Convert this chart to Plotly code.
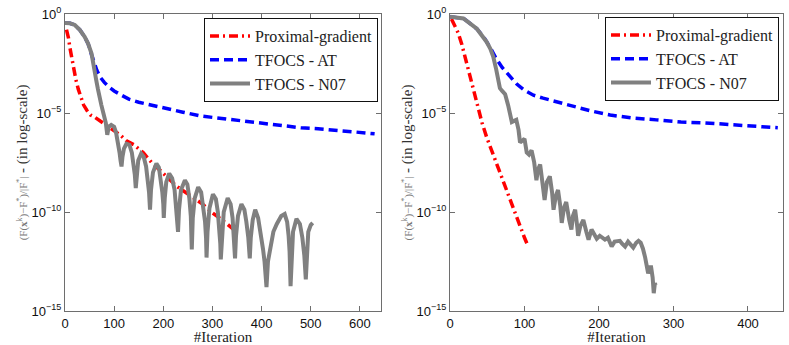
import plotly.graph_objects as go

# ---- left panel ----
left_prox_x = [3, 7, 10, 14, 18, 22, 27, 32, 38, 45, 52, 60, 71, 85, 98, 112, 125, 140,
               159, 176, 193, 210, 227, 245, 262, 280, 298, 315, 330, 343]
left_prox_y = [1.6e-1, 6.3e-2, 2.0e-2, 5.0e-3, 1.6e-3, 5.0e-4, 1.6e-4, 6.3e-5, 2.5e-5,
               1.3e-5, 7.9e-6, 6.3e-6, 4.0e-6, 2.5e-6, 1.3e-6, 7.9e-7, 4.0e-7, 2.5e-7,
               1.0e-7, 3.2e-8, 1.3e-8, 5.0e-9, 2.0e-9, 1.0e-9, 5.0e-10, 2.5e-10, 1.0e-10,
               5.0e-11, 2.5e-11, 1.3e-11]

left_at_x = [0, 10, 20, 30, 40, 47, 54, 60, 65, 72, 80, 90, 100, 115, 130, 150, 175, 205,
             240, 275, 310, 345, 380, 410, 445, 480, 515, 550, 590, 630]
left_at_y = [3.5e-1, 3.4e-1, 2.8e-1, 1.6e-1, 7.1e-2, 3.2e-2, 8.9e-3, 3.2e-3, 1.4e-3,
             6.3e-4, 3.5e-4, 2.0e-4, 1.3e-4, 7.9e-5, 5.0e-5, 3.5e-5, 2.5e-5, 1.6e-5,
             1.1e-5, 7.1e-6, 5.6e-6, 4.5e-6, 3.5e-6, 2.8e-6, 2.2e-6, 1.8e-6, 1.6e-6,
             1.4e-6, 1.1e-6, 8.9e-7]

left_n07_x = [0, 10, 20, 30, 40, 47, 54, 60, 64, 67, 70, 74, 78, 83, 86, 89, 94, 100,
              104, 108, 111, 113, 115, 117, 120, 125, 131, 136, 140, 142, 144, 146, 149,
              155, 160, 165, 169, 171, 173, 175, 179, 186, 191, 195, 198, 200, 201, 203,
              206, 212, 218, 223, 226, 228, 230, 232, 236, 244, 249, 253, 256, 258, 260,
              264, 271, 277, 281, 285, 287, 288, 290, 294, 301, 307, 311, 314, 316, 317,
              319, 323, 331, 337, 341, 344, 346, 348, 352, 359, 365, 369, 373, 376, 378,
              382, 387, 393, 398, 403, 406, 410, 413, 418, 424, 431, 440, 447, 452, 455,
              457, 459, 461, 464, 471, 478, 483, 487, 490, 492, 495, 500, 504]
left_n07_y = [3.5e-1, 3.4e-1, 2.8e-1, 1.6e-1, 7.1e-2, 3.2e-2, 1.0e-2, 2.0e-3, 4.0e-4,
              1.6e-4, 6.3e-5, 2.5e-5, 1.0e-5, 3.2e-6, 7.9e-7, 2.0e-6, 2.5e-6, 2.0e-6,
              1.0e-6, 3.2e-7, 1.0e-7, 4.0e-8, 2.0e-8, 6.3e-8, 1.6e-7, 2.8e-7, 2.5e-7,
              1.0e-7, 2.5e-8, 7.9e-9, 1.6e-9, 1.0e-8, 4.0e-8, 8.9e-8, 6.3e-8, 2.0e-8,
              4.0e-9, 1.0e-9, 1.3e-10, 1.3e-9, 1.0e-8, 2.8e-8, 1.8e-8, 5.0e-9, 1.0e-9,
              2.5e-10, 5.0e-11, 5.0e-10, 3.2e-9, 8.9e-9, 5.0e-9, 1.3e-9, 2.5e-10, 6.3e-11,
              1.0e-11, 1.3e-10, 1.3e-9, 4.0e-9, 2.5e-9, 5.0e-10, 6.3e-11, 1.3e-12, 5.0e-11,
              5.0e-10, 1.8e-9, 1.0e-9, 2.5e-10, 3.2e-11, 5.0e-12, 5.0e-13, 1.0e-11, 1.6e-10,
              7.9e-10, 4.5e-10, 1.0e-10, 1.6e-11, 2.5e-12, 4.0e-13, 6.3e-12, 1.0e-10,
              5.0e-10, 2.5e-10, 5.0e-11, 6.3e-12, 4.5e-13, 6.3e-12, 6.3e-11, 2.5e-10,
              1.3e-10, 3.2e-11, 5.0e-12, 4.5e-13, 5.0e-12, 4.0e-11, 1.3e-10, 5.0e-11,
              1.0e-11, 1.3e-12, 3.2e-13, 1.6e-14, 3.2e-13, 2.0e-12, 1.0e-11, 2.5e-11,
              6.3e-11, 7.9e-11, 3.2e-11, 6.3e-12, 1.0e-12, 1.8e-14, 6.3e-13, 1.0e-11,
              4.5e-11, 2.5e-11, 5.0e-12, 6.3e-13, 4.0e-14, 1.0e-12, 1.0e-11, 2.2e-11,
              2.8e-11]

# ---- right panel ----
right_prox_x = [2, 6, 11, 16, 20, 25, 29, 34, 38, 43, 49, 54, 60, 67, 72, 80, 86, 94, 100, 105]
right_prox_y = [5.6e-1, 2.8e-1, 1.1e-1, 2.8e-2, 7.1e-3, 1.4e-3, 3.2e-4, 6.3e-5, 1.4e-5,
                3.2e-6, 6.3e-7, 2.0e-7, 4.5e-8, 1.0e-8, 3.2e-9, 4.5e-10, 1.3e-10,
                1.6e-11, 5.0e-12, 1.8e-12]

right_at_x = [0, 18, 36, 45, 54, 62, 70, 80, 90, 100, 112, 125, 140, 160, 188, 215, 245,
              277, 310, 340, 370, 405, 440]
right_at_y = [7.2e-1, 6.0e-1, 1.8e-1, 7.1e-2, 2.0e-2, 5.6e-3, 2.0e-3, 7.1e-4, 2.8e-4,
              1.4e-4, 7.9e-5, 5.6e-5, 4.0e-5, 2.5e-5, 1.3e-5, 7.9e-6, 5.6e-6, 4.5e-6,
              3.5e-6, 3.2e-6, 2.8e-6, 2.2e-6, 1.8e-6]

right_n07_x = [0, 18, 36, 45, 49, 54, 58, 62, 65, 67, 70, 74, 78, 81, 83, 86, 89, 92, 94,
               97, 100, 103, 106, 109.5, 113, 116, 118, 121, 124, 127, 130, 134, 137, 139,
               142, 145, 148, 150, 153, 156, 160, 163, 165, 168, 171, 172, 175, 179, 183,
               186, 190, 194, 197, 201, 205, 208, 212, 217, 221, 228, 231, 235, 239, 242,
               246, 250, 253, 256, 259, 262, 264, 266, 268, 270, 272, 273.5, 275, 276]
right_n07_y = [7.2e-1, 6.0e-1, 1.8e-1, 7.1e-2, 4.0e-2, 1.8e-2, 7.1e-3, 1.6e-3, 4.5e-4,
               1.8e-4, 1.3e-4, 8.9e-5, 2.5e-5, 8.9e-6, 3.5e-6, 4.0e-6, 4.5e-6, 1.4e-6,
               3.2e-7, 4.0e-7, 5.0e-7, 1.0e-7, 7.9e-8, 1.3e-7, 3.2e-8, 4.0e-9, 1.3e-8,
               2.5e-8, 3.2e-9, 4.0e-10, 3.2e-9, 6.3e-9, 1.0e-9, 1.3e-10, 6.3e-10, 1.3e-9,
               2.0e-10, 2.8e-11, 1.6e-10, 3.2e-10, 4.0e-11, 1.3e-11, 6.3e-11, 1.3e-10,
               1.6e-11, 6.3e-12, 2.0e-11, 4.0e-11, 1.0e-11, 4.0e-12, 1.3e-11, 6.3e-12,
               4.5e-12, 6.3e-12, 4.5e-12, 4.0e-12, 5.0e-12, 1.8e-12, 3.2e-12, 3.5e-12,
               2.5e-12, 1.8e-12, 3.2e-12, 2.5e-12, 1.6e-12, 2.8e-12, 3.5e-12, 2.8e-12,
               1.4e-12, 5.0e-13, 2.5e-13, 7.9e-14, 1.6e-13, 1.6e-13, 5.0e-14, 7.9e-15,
               2.5e-14, 2.0e-14]

series_names = ["Proximal-gradient", "TFOCS - AT", "TFOCS - N07"]
y_tickvals = [1, 1e-5, 1e-10, 1e-15]
y_ticktext = ["10<sup>0</sup>", "10<sup>−5</sup>", "10<sup>−10</sup>", "10<sup>−15</sup>"]

serif = "Times New Roman"
sans = "Liberation Sans"
frame = "#6e6e6e"

styles = [
    dict(color="#ff0000", width=3.5, dash="9px,4px,2px,4px"),
    dict(color="#0000ff", width=3.5, dash="9px,5px"),
    dict(color="#808080", width=4, dash="solid"),
]

fig = go.Figure()

panels = [
    ("x", "y", "legend", [(left_prox_x, left_prox_y), (left_at_x, left_at_y), (left_n07_x, left_n07_y)]),
    ("x2", "y2", "legend2", [(right_prox_x, right_prox_y), (right_at_x, right_at_y), (right_n07_x, right_n07_y)]),
]
for xa, ya, leg, data in panels:
    for name, (xs, ys), st in zip(series_names, data, styles):
        fig.add_trace(go.Scatter(x=xs, y=ys, mode="lines", name=name, line=st,
                                 xaxis=xa, yaxis=ya, legend=leg))

ytitle = ("<span style='font-size:11px;fill:#777'>(F(<b>x</b><sup>k</sup>)−F<sup>*</sup>)/|F<sup>*</sup>|</span>"
          " - (in log-scale)")

axis_common = dict(showline=True, linecolor=frame, linewidth=1, mirror="ticks",
                   ticks="inside", ticklen=5, tickcolor=frame, showgrid=False,
                   zeroline=False, automargin=False,
                   tickfont=dict(family=sans, size=13, color="#111"))

xtitle = dict(text="#Iteration", font=dict(family=serif, size=15, color="#222"), standoff=0)
ytitle_d = dict(text=ytitle, font=dict(family=serif, size=15, color="#333"), standoff=0)
legend_common = dict(xanchor="right", yanchor="top", bgcolor="white", bordercolor="#111",
                     borderwidth=1, itemwidth=40, tracegroupgap=0,
                     font=dict(family=serif, size=16, color="#222"))

fig.update_layout(
    width=789, height=345,
    margin=dict(l=0, r=0, t=0, b=0),
    paper_bgcolor="white", plot_bgcolor="white",
    xaxis=dict(domain=[65 / 789, 381 / 789], range=[0, 643], tickvals=[0, 100, 200, 300, 400, 500, 600],
               title=xtitle, anchor="y", **axis_common),
    yaxis=dict(domain=[34 / 345, 331 / 345], type="log", range=[-15, 0], tickvals=y_tickvals,
               ticktext=y_ticktext, anchor="x", title=ytitle_d, **axis_common),
    xaxis2=dict(domain=[450 / 789, 783 / 789], range=[0, 447], tickvals=[0, 100, 200, 300, 400],
                title=xtitle, anchor="y2", **axis_common),
    yaxis2=dict(domain=[34 / 345, 331 / 345], type="log", range=[-15, 0], tickvals=y_tickvals,
                ticktext=y_ticktext, anchor="x2", title=ytitle_d, **axis_common),
    legend=dict(x=378 / 789, y=327 / 345, **legend_common),
    legend2=dict(x=779 / 789, y=328 / 345, **legend_common),
)

fig.write_html("out.html", config={"displayModeBar": False},
               post_script="document.body.style.margin = '0';")
